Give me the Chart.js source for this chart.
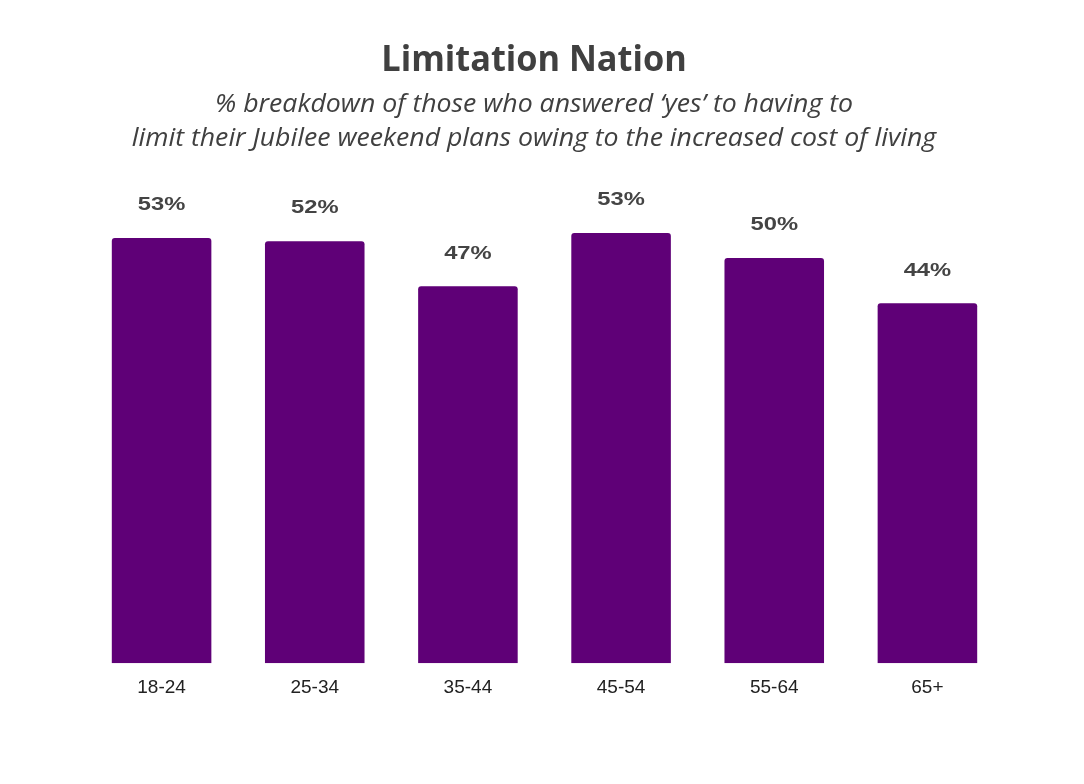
<!DOCTYPE html>
<html>
<head>
<meta charset="utf-8">
<script src="https://cdn.jsdelivr.net/npm/chart.js"></script>
<style>
  html, body { margin: 0; padding: 0; background: #fff; }
  #wrap { position: relative; width: 1084px; height: 784px; }
  #titles { position: absolute; left: -8px; top: 0; width: 1084px; text-align: center; color: #404040; font-family: "Open Sans", sans-serif; }
  #titles .t { position: absolute; left: 0; width: 1084px; white-space: nowrap; }
  #title { top: 34px; font-size: 35px; font-weight: 700; transform: scaleX(0.98); }
  #sub1 { top: 84px; font-size: 26px; font-style: italic; transform: scaleX(1.025); }
  #sub2 { top: 118px; font-size: 26px; font-style: italic; transform: scaleX(1.025); }
  canvas { position: absolute; left: 0; top: 0; }
</style>
</head>
<body>
<div id="wrap">
  <canvas id="barChart" width="1084" height="784"></canvas>
  <div id="titles">
    <div class="t" id="title">Limitation Nation</div>
    <div class="t" id="sub1">% breakdown of those who answered ‘yes’ to having to</div>
    <div class="t" id="sub2">limit their Jubilee weekend plans owing to the increased cost of living</div>
  </div>
</div>

<script>
  // Tranches d'âge et pourcentages
  const categories = ['18-24', '25-34', '35-44', '45-54', '55-64', '65+'];
  const values = [52.7, 52.3, 46.7, 53.3, 50.2, 44.6];
  const valueLabels = ['53%', '52%', '47%', '53%', '50%', '44%'];

  // Etiquettes au-dessus des barres (texte un peu élargi comme l'original)
  const barLabels = {
    id: 'barLabels',
    afterDatasetsDraw(chart) {
      const ctx = chart.ctx;
      const meta = chart.getDatasetMeta(0);
      ctx.save();
      ctx.fillStyle = '#444444';
      ctx.font = 'bold 19px "Liberation Sans", Arial, sans-serif';
      ctx.textAlign = 'center';
      ctx.textBaseline = 'middle';
      meta.data.forEach((bar, i) => {
        ctx.save();
        ctx.translate(bar.x, bar.y - 33);
        ctx.scale(1.25, 1);
        ctx.fillText(valueLabels[i], 0, 0);
        ctx.restore();
      });
      ctx.restore();
    }
  };

  const ctx = document.getElementById('barChart').getContext('2d');
  new Chart(ctx, {
    type: 'bar',
    data: {
      labels: categories,
      datasets: [{
        data: values,
        backgroundColor: '#5f0077',
        borderRadius: 3,
        borderSkipped: 'bottom',
        categoryPercentage: 1,
        barPercentage: 0.65
      }]
    },
    options: {
      responsive: false,
      animation: false,
      layout: { padding: { top: 179, left: 85, right: 80, bottom: 72 } },
      plugins: { legend: { display: false }, tooltip: { enabled: false } },
      scales: {
        x: {
          grid: { display: false, drawTicks: false },
          border: { display: false },
          ticks: { color: '#222222', font: { family: '"Liberation Sans", Arial, sans-serif', size: 19 }, padding: 13 }
        },
        y: {
          display: false,
          min: 0,
          max: 60
        }
      }
    },
    plugins: [barLabels]
  });
</script>
</body>
</html>
